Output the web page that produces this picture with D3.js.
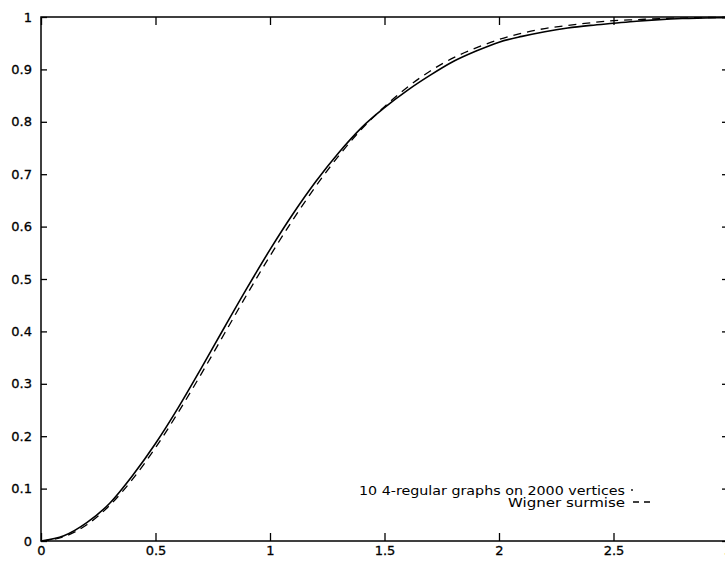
<!DOCTYPE html>
<html>
<head>
<meta charset="utf-8">
<script src="https://cdn.jsdelivr.net/npm/d3@7"></script>
<style>
body { margin: 0; background: white; }
svg text { font-family: "DejaVu Sans", "Liberation Sans", Arial, sans-serif; fill: black; }
</style>
</head>
<body>
<div id="chart"></div>
<script>
// spacing values s
var sVals = [0, 0.1, 0.2, 0.3, 0.4, 0.5, 0.6, 0.7, 0.8, 0.9, 1.0,
    1.1, 1.2, 1.3, 1.4, 1.5, 1.6, 1.7, 1.8, 1.9, 2.0,
    2.1, 2.2, 2.3, 2.4, 2.5, 2.6, 2.7, 2.8, 2.9, 3.0];
// cumulative distribution, 10 4-regular graphs on 2000 vertices
var graphVals = [0, 0.010, 0.035, 0.072, 0.125, 0.186, 0.255, 0.330, 0.407, 0.483, 0.556,
    0.624, 0.686, 0.741, 0.789, 0.827, 0.860, 0.889, 0.915, 0.935, 0.952,
    0.963, 0.972, 0.979, 0.984, 0.988, 0.992, 0.995, 0.997, 0.998, 0.999];
// Wigner surmise
var wignerVals = [0, 0.008, 0.031, 0.068, 0.118, 0.178, 0.246, 0.319, 0.395, 0.471, 0.544,
    0.613, 0.677, 0.735, 0.786, 0.829, 0.866, 0.897, 0.922, 0.941, 0.957,
    0.969, 0.978, 0.984, 0.989, 0.993, 0.995, 0.997, 0.998, 0.999, 0.999];
var xTicks = [0, 0.5, 1, 1.5, 2, 2.5, 3];
var yTicks = [0, 0.1, 0.2, 0.3, 0.4, 0.5, 0.6, 0.7, 0.8, 0.9, 1];
var legendLabels = ["10 4-regular graphs on 2000 vertices", "Wigner surmise"];

var svg = d3.select("#chart")
    .append("svg")
    .attr("width", 725)
    .attr("height", 561)

var x = d3.scaleLinear()
    .domain([0, 3])
    .range([41, 728]);
var y = d3.scaleLinear()
    .domain([0, 1])
    .range([541, 17]);

// frame
svg.append("rect")
    .attr("x", x(0))
    .attr("y", y(1))
    .attr("width", x(3) - x(0))
    .attr("height", y(0) - y(1))
    .attr("fill", "none")
    .attr("stroke", "black")
    .attr("stroke-width", 1.5)

// ticks, all pointing inward
svg.append("g")
    .attr("transform", "translate(0," + y(0) + ")")
    .call(d3.axisBottom(x).tickValues(xTicks).tickSize(-8).tickPadding(5).tickFormat(d3.format("")))
    .call(g => g.select(".domain").remove())
svg.append("g")
    .attr("transform", "translate(0," + y(1) + ")")
    .call(d3.axisTop(x).tickValues(xTicks).tickSize(-8).tickFormat(""))
    .call(g => g.select(".domain").remove())
svg.append("g")
    .attr("transform", "translate(" + x(0) + ",0)")
    .call(d3.axisLeft(y).tickValues(yTicks).tickSize(-6).tickPadding(9).tickFormat(d3.format("")))
    .call(g => g.select(".domain").remove())
svg.append("g")
    .attr("transform", "translate(" + x(3) + ",0)")
    .call(d3.axisRight(y).tickValues(yTicks).tickSize(-6).tickFormat(""))
    .call(g => g.select(".domain").remove())

svg.selectAll(".tick line").attr("stroke-width", 1.3)
svg.selectAll(".tick text")
    .style("font-size", "13px")
    .style("font-family", "DejaVu Sans, Liberation Sans, Arial, sans-serif")
    .style("stroke", "black")
    .style("stroke-width", 0.3)

var line = d3.line()
    .x((d, i) => x(sVals[i]))
    .y(d => y(d))
    .curve(d3.curveMonotoneX)

svg.append("path")
    .datum(graphVals)
    .attr("d", line)
    .attr("fill", "none")
    .attr("stroke", "black")
    .attr("stroke-width", 1.6)

svg.append("path")
    .datum(wignerVals)
    .attr("d", line)
    .attr("fill", "none")
    .attr("stroke", "black")
    .attr("stroke-width", 1.3)
    .attr("stroke-dasharray", "8,6")

// legend (scanned text is a bit wider than the font)
svg.append("text")
    .attr("x", 625)
    .attr("y", 495)
    .attr("text-anchor", "end")
    .attr("textLength", 266)
    .attr("lengthAdjust", "spacingAndGlyphs")
    .style("font-size", "11.5px")
    .text(legendLabels[0]);
svg.append("circle")
    .attr("cx", 632)
    .attr("cy", 490)
    .attr("r", 0.9)
    .attr("fill", "black")
svg.append("text")
    .attr("x", 625)
    .attr("y", 507)
    .attr("text-anchor", "end")
    .attr("textLength", 117)
    .attr("lengthAdjust", "spacingAndGlyphs")
    .style("font-size", "11.5px")
    .text(legendLabels[1]);
svg.append("line")
    .attr("x1", 633)
    .attr("x2", 651)
    .attr("y1", 502)
    .attr("y2", 502)
    .attr("stroke", "black")
    .attr("stroke-width", 1.3)
    .attr("stroke-dasharray", "6,5")
</script>
</body>
</html>
